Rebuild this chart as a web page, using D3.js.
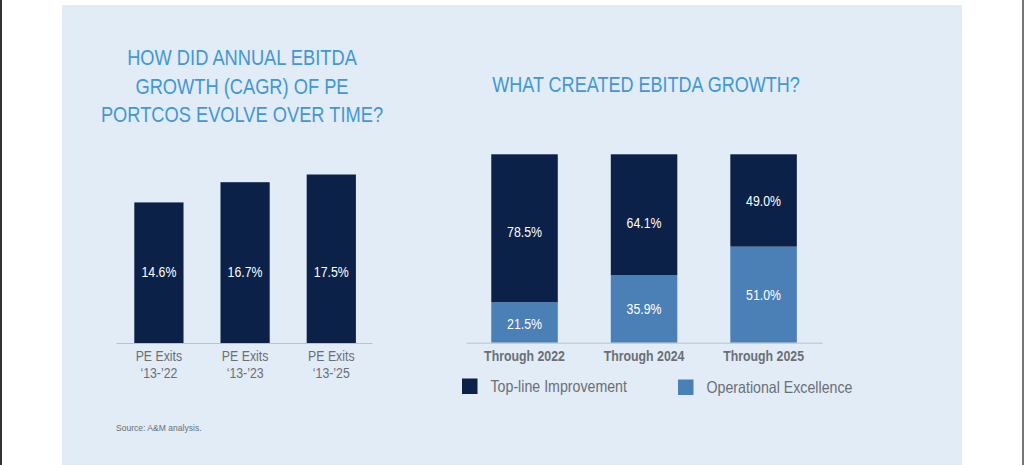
<!DOCTYPE html>
<html>
<head>
<meta charset="utf-8">
<script src="https://cdn.jsdelivr.net/npm/d3@7"></script>
<style>
  html, body { margin: 0; padding: 0; background: #ffffff; }
  svg { display: block; }
  text { font-family: "Liberation Sans", Arial, sans-serif; }
</style>
</head>
<body>
<svg id="chart" width="1024" height="465"></svg>
<script>
// ---- data ----
const leftCategories = [["PE Exits", "\u201813-\u201922"], ["PE Exits", "\u201813-\u201923"], ["PE Exits", "\u201813-\u201925"]];
const leftValues = [14.6, 16.7, 17.5];
const leftTitle = ["HOW DID ANNUAL EBITDA", "GROWTH (CAGR) OF PE", "PORTCOS EVOLVE OVER TIME?"];

const rightCategories = ["Through 2022", "Through 2024", "Through 2025"];
const operationalExcellence = [21.5, 35.9, 51.0];
const topLineImprovement = [78.5, 64.1, 49.0];
const seriesNames = ["Top-line Improvement", "Operational Excellence"];
const rightTitle = "WHAT CREATED EBITDA GROWTH?";
const sourceNote = "Source: A&M analysis.";

// ---- styles ----
const NAVY = "#0c2148", LIGHT = "#4b80b6", PANEL = "#e1ecf7", TITLE = "#4297d4", GREY = "#6b6f75";

// condensed look: squeeze glyphs horizontally
function condense(sel, f) {
  sel.each(function () {
    const len = this.getComputedTextLength();
    this.setAttribute("textLength", (len * f).toFixed(2));
    this.setAttribute("lengthAdjust", "spacingAndGlyphs");
  });
}

const svg = d3.select("#chart");
svg.append("rect").attr("x", 0).attr("y", 0).attr("width", 1024).attr("height", 465).attr("fill", "#fff");
svg.append("rect").attr("x", 62).attr("y", 5).attr("width", 900).attr("height", 460).attr("fill", PANEL);
svg.append("rect").attr("x", 0).attr("y", 0).attr("width", 2).attr("height", 465).attr("fill", "#333");
svg.append("rect").attr("x", 1022).attr("y", 0).attr("width", 2).attr("height", 465).attr("fill", "#777");

// ---- left chart ----
const lx = d3.scaleBand().domain(d3.range(leftValues.length)).range([91.2, 399]).paddingInner(0.429).paddingOuter(0.5);
const ly = d3.scaleLinear().domain([0, 17.5]).range([343, 174.5]);

svg.append("g").selectAll("text").data(leftTitle).join("text")
  .attr("x", 242).attr("y", (d, i) => 57.5 + i * 28.4).attr("dy", "0.35em")
  .attr("text-anchor", "middle").attr("fill", TITLE).attr("font-size", 22).text(d => d)
  .call(condense, 0.83);

svg.append("g").selectAll("rect").data(leftValues).join("rect")
  .attr("x", (d, i) => lx(i)).attr("width", lx.bandwidth())
  .attr("y", d => ly(d)).attr("height", d => ly(0) - ly(d)).attr("fill", NAVY);

svg.append("g").selectAll("text").data(leftValues).join("text")
  .attr("x", (d, i) => lx(i) + lx.bandwidth() / 2).attr("y", 272).attr("dy", "0.35em")
  .attr("text-anchor", "middle").attr("fill", "#fff").attr("font-size", 14.5).text(d => d.toFixed(1) + "%")
  .call(condense, 0.85);

const lAxis = svg.append("g").attr("transform", `translate(0,${ly(0)})`)
  .call(d3.axisBottom(lx).tickSize(0).tickFormat(() => ""));
lAxis.select(".domain").attr("d", "M116.5,0.5H372.5").attr("stroke", "#b9c3cc").attr("stroke-width", 1);
lAxis.selectAll(".tick").each(function (d) {
  const t = d3.select(this).append("text").attr("fill", GREY).attr("font-size", 15).attr("text-anchor", "middle");
  t.append("tspan").attr("x", 0).attr("y", 12.5).attr("dy", "0.35em").text(leftCategories[d][0]);
  t.append("tspan").attr("x", 0).attr("y", 30).attr("dy", "0.35em").text(leftCategories[d][1]);
});
lAxis.selectAll(".tick tspan").call(condense, 0.82);

svg.append("text").attr("x", 116).attr("y", 428).attr("dy", "0.35em")
  .attr("fill", GREY).attr("font-size", 9.5).text(sourceNote).call(condense, 0.9);

// ---- right chart ----
const rx = d3.scaleBand().domain(rightCategories).range([431.5, 856.6]).paddingInner(0.4435).paddingOuter(0.5);
const ry = d3.scaleLinear().domain([0, 100]).range([342.7, 154.3]);

svg.append("text").attr("x", 646).attr("y", 84.5).attr("dy", "0.35em")
  .attr("text-anchor", "middle").attr("fill", TITLE).attr("font-size", 22).text(rightTitle)
  .call(condense, 0.82);

const stackData = rightCategories.map((c, i) => ({ cat: c, ops: operationalExcellence[i], top: topLineImprovement[i] }));
const stack = d3.stack().keys(["ops", "top"])(stackData);
const colors = { ops: LIGHT, top: NAVY };

const layers = svg.append("g").selectAll("g").data(stack).join("g").attr("fill", d => colors[d.key]);
layers.selectAll("rect").data(d => d).join("rect")
  .attr("x", d => rx(d.data.cat)).attr("width", rx.bandwidth())
  .attr("y", d => ry(d[1])).attr("height", d => ry(d[0]) - ry(d[1]));

const labelShift = { ops: [1, 0, 0], top: [4, 8, 0] };
const labels = svg.append("g");
stack.forEach(layer => {
  labels.selectAll(null).data(layer).join("text")
    .attr("x", d => rx(d.data.cat) + rx.bandwidth() / 2)
    .attr("y", (d, i) => (ry(d[0]) + ry(d[1])) / 2 + labelShift[layer.key][i])
    .attr("dy", "0.35em").attr("text-anchor", "middle").attr("fill", "#fff").attr("font-size", 14.5)
    .text(d => (d[1] - d[0]).toFixed(1) + "%")
    .call(condense, 0.85);
});

const rAxis = svg.append("g").attr("transform", `translate(0,${ry(0)})`)
  .call(d3.axisBottom(rx).tickSize(0).tickPadding(0));
rAxis.select(".domain").attr("d", "M466.5,0.5H822.5").attr("stroke", "#b9c3cc").attr("stroke-width", 1);
rAxis.selectAll(".tick text").attr("y", 13.5).attr("dy", "0.35em").attr("fill", GREY)
  .attr("font-size", 14.5).attr("font-weight", "bold").style("font-family", "'Liberation Sans', Arial, sans-serif")
  .call(condense, 0.85);

// legend
const legendItems = [
  { name: seriesNames[0], color: NAVY, x: 462, y: 378.5 },
  { name: seriesNames[1], color: LIGHT, x: 678, y: 379.5 }
];
const lg = svg.append("g").selectAll("g").data(legendItems).join("g")
  .attr("transform", d => `translate(${d.x},${d.y})`);
lg.append("rect").attr("width", 15.5).attr("height", 15.5).attr("fill", d => d.color);
lg.append("text").attr("x", 28.5).attr("y", 8).attr("dy", "0.35em").attr("fill", GREY)
  .attr("font-size", 16.5).text(d => d.name)
  .call(condense, 0.86);
</script>
</body>
</html>
